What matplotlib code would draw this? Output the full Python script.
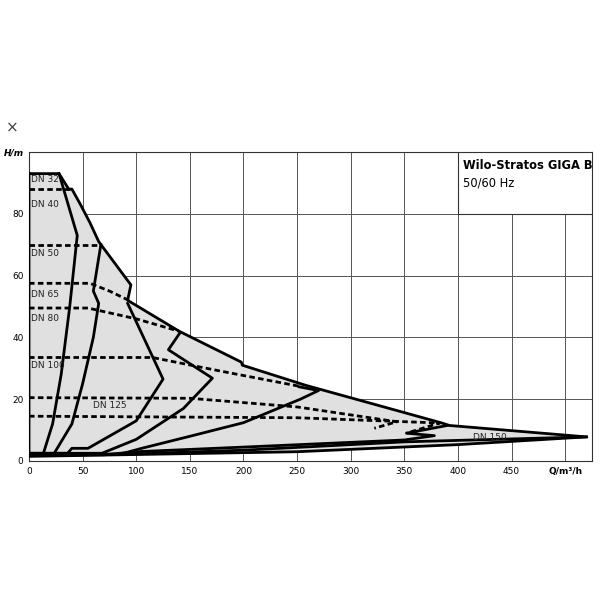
import matplotlib.pyplot as plt
import numpy as np

# envelope (outer limit of all sizes)
env_q = [0, 28, 37, 40, 48, 57, 65, 95, 92, 140, 198, 199, 258, 385, 392, 520, 400, 250, 0]
env_h = [93, 93, 88, 88, 83, 77, 71, 57, 52, 42, 32, 31, 24.5, 12.3, 11.5, 7.8, 5.3, 3, 1.5]

# solid curves for each size (max / min limits)
curves = {
    "DN32": ([28, 45, 38, 30, 22, 13, 0], [93, 73, 50, 28, 12, 2, 2]),
    "DN40": ([67, 60, 65, 60, 50, 40, 23, 0], [70, 55, 51, 40, 25, 12, 2.2, 2.2]),
    "DN50": ([92, 125, 100, 55, 40, 36, 0], [51, 26.5, 13, 4.1, 4.1, 2.5, 2.5]),
    "DN65": ([141, 130, 171, 144, 100, 68, 0], [41.6, 36, 26.8, 17, 7, 2.5, 2.5]),
    "DN80": ([252, 270, 253, 200, 150, 105, 85, 0], [24, 22.8, 20, 12.4, 8, 4.1, 2.2, 2.2]),
    "DN100": ([390, 352, 378, 350, 200, 100, 70, 0], [11.5, 9, 8.2, 6.8, 4.5, 3, 2, 2]),
    "DN125": ([520, 350, 200, 100, 0], [7.8, 6.2, 3.5, 2.3, 1.8]),
}

# dashed size borders
dashes = [
    ([0, 38], [88, 88]),
    ([0, 67], [70, 70]),
    ([0, 57, 75, 93], [57.5, 57.5, 55, 52]),
    ([0, 55, 100, 140], [49.5, 49.5, 46, 42]),
    ([0, 115, 180, 255], [33.5, 33.5, 29, 24]),
    ([0, 150, 250, 343, 322], [20.5, 20.3, 17.5, 12.7, 10.6]),
    ([0, 250, 383, 352], [14.5, 14, 12.3, 9]),
]

labels = ["DN 32", "DN 40", "DN 50", "DN 65", "DN 80", "DN 100", "DN 125", "DN 150"]
label_q = [2, 2, 2, 2, 2, 2, 60, 414]
label_h = [91, 83, 67, 54, 46, 31, 18, 7.5]

fig = plt.figure(figsize=(6, 6), dpi=100)
ax = fig.add_axes([29 / 600, 139 / 600, 563 / 600, 309 / 600])
ax.set_xlim(0, 525)
ax.set_ylim(0, 100)

ax.fill(env_q, env_h, color="#e0e0e0", zorder=1)
ax.plot(env_q + [0], env_h + [93], color="black", lw=2, zorder=4)
for q, h in curves.values():
    ax.plot(q, h, color="black", lw=2, zorder=4)
for q, h in dashes:
    ax.plot(q, h, color="black", lw=2, ls=(0, (2, 1.2)), zorder=3)
for t, q, h in zip(labels, label_q, label_h):
    ax.text(q, h, t, fontsize=6.5, va="center", ha="left", color="#222", zorder=5)

ax.set_xticks(range(0, 501, 50))
ax.set_xticklabels([str(v) for v in range(0, 451, 50)] + ["Q/m³/h"], fontsize=6.5)
ax.set_yticks(range(0, 101, 20))
ax.set_yticklabels(["0", "20", "40", "60", "80", "H/m"], fontsize=6.5)
ax.get_xticklabels()[-1].set_fontweight("bold")
ax.get_yticklabels()[-1].set_fontweight("bold")
ax.get_yticklabels()[-1].set_fontstyle("italic")
ax.tick_params(length=0, pad=4)
ax.grid(True, color="#555", lw=0.7, zorder=0)
ax.set_axisbelow(True)
for s in ax.spines.values():
    s.set_color("#333")

ax.add_patch(plt.Rectangle((400, 80), 125, 20, facecolor="white", edgecolor="#333", lw=0.8, zorder=6))
ax.text(405, 95.5, "Wilo-Stratos GIGA B", fontsize=8.3, fontweight="bold", va="center", zorder=7)
ax.text(405, 90, "50/60 Hz", fontsize=8.3, va="center", zorder=7)

fig.text(12 / 600, 1 - 128 / 600, "×", fontsize=11, ha="center", va="center", color="#444")

fig.savefig("out.png")
